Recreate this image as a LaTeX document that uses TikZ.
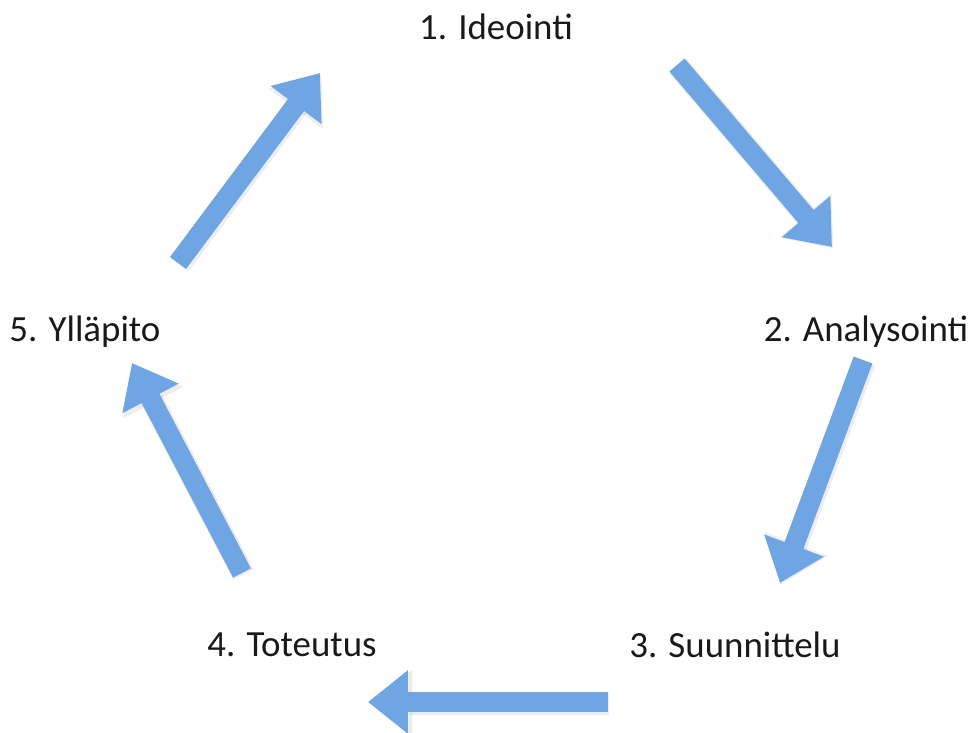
\documentclass[tikz,border=0pt]{standalone}
\usepackage{fontspec}
\setmainfont{Carlito}
\usepackage{xcolor}
\usetikzlibrary{arrows.meta}
\definecolor{arrowblue}{RGB}{112,165,228}
\tikzset{
  phase/.style={font=\fontsize{21}{25}\selectfont, text=black!90},
  bigarrow/.style={draw=arrowblue, line width=0.4cm,
    -{Triangle[length=0.8cm, width=1.22cm]}},
  shadowarrow/.style={draw=black, opacity=0.07, line width=0.46cm,
    -{Triangle[length=0.86cm, width=1.3cm]}}
}
\begin{document}
\begin{tikzpicture}[x=0.02cm, y=-0.02cm]
\useasboundingbox (0,0) rectangle (974,733);
% vaiheet
\node [phase] (ideointi) at (496,27) {1. Ideointi};
\node [phase] (analysointi) at (866,332) {2. Analysointi};
\node [phase] (suunnittelu) at (735,645) {3. Suunnittelu};
\node [phase] (toteutus) at (292,645) {4. Toteutus};
\node [phase] (yllapito) at (85,332) {5. Ylläpito};
% nuolten päät
\coordinate (a1) at (677,65);  \coordinate (a2) at (832,247);
\coordinate (b1) at (863,360); \coordinate (b2) at (780,583);
\coordinate (c1) at (608,702); \coordinate (c2) at (368,702);
\coordinate (d1) at (242,573); \coordinate (d2) at (132,363);
\coordinate (e1) at (178,263); \coordinate (e2) at (320,73);
% varjot
\foreach \s/\t in {a1/a2,b1/b2,c1/c2,d1/d2,e1/e2}
  \draw [shadowarrow, transform canvas={xshift=0.8pt, yshift=-0.8pt}] (\s) -- (\t);
% nuolet
\foreach \s/\t in {a1/a2,b1/b2,c1/c2,d1/d2,e1/e2}
  \draw [bigarrow] (\s) -- (\t);
\end{tikzpicture}
\end{document}
